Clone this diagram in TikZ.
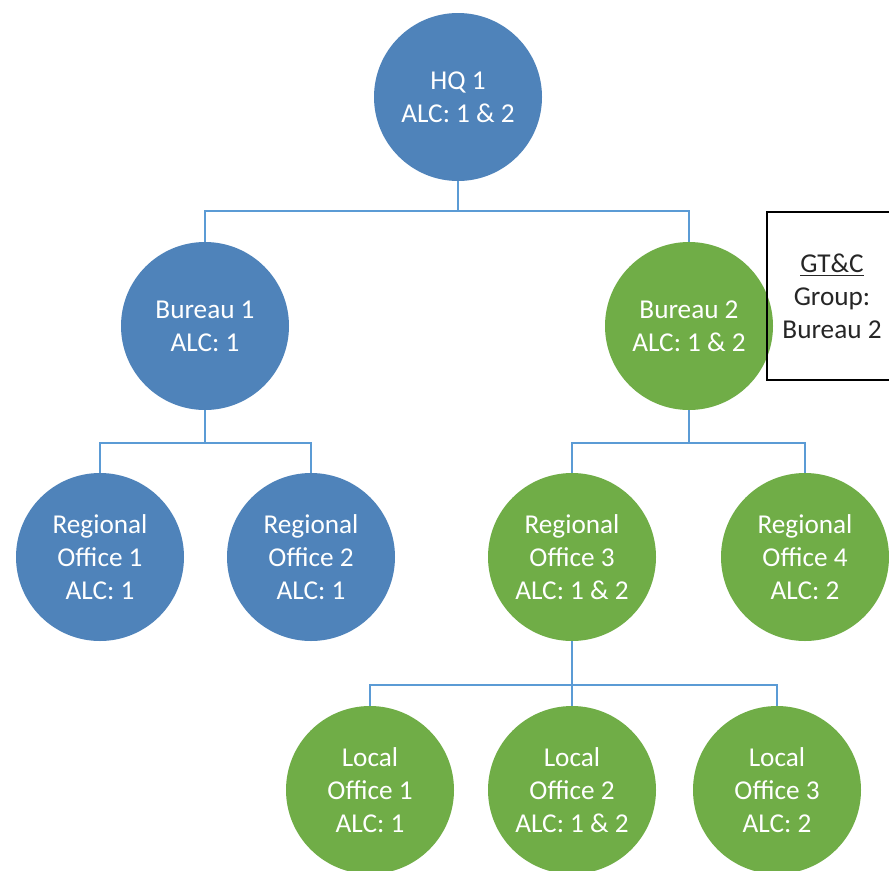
\documentclass[tikz,border=0pt]{standalone}
\usepackage{fontspec}
\setmainfont{Carlito}
\usetikzlibrary{positioning}
\definecolor{officeblue}{HTML}{4F83BA}
\definecolor{officegreen}{HTML}{70AD47}
\definecolor{linkblue}{HTML}{5B9BD5}

\begin{document}
\begin{tikzpicture}[
  office/.style={circle, minimum size=3.36cm, inner sep=0pt, align=center,
    text=white, font=\fontsize{15.5}{18.7}\selectfont},
  blueoffice/.style={office, fill=officeblue},
  greenoffice/.style={office, fill=officegreen},
  link/.style={draw=linkblue, line width=1.1pt},
  node distance=1cm, on grid]
\useasboundingbox (0,0) rectangle (17.78,-17.4);
\clip (0,0) rectangle (17.78,-17.4);
% HQ
\node[blueoffice] (hq) at (9.16,-1.94) {HQ 1\\ALC: 1 \& 2};
% bureaus
\node[blueoffice, below left=4.58cm and 5.06cm of hq] (bur1) {Bureau 1\\ALC: 1};
\node[greenoffice, below right=4.58cm and 4.62cm of hq] (bur2) {Bureau 2\\ALC: 1 \& 2};
% regional offices
\node[blueoffice, below left=4.62cm and 2.1cm of bur1] (reg1) {Regional\\Office 1\\ALC: 1};
\node[blueoffice, below right=4.62cm and 2.12cm of bur1] (reg2) {Regional\\Office 2\\ALC: 1};
\node[greenoffice, below left=4.62cm and 2.34cm of bur2] (reg3) {Regional\\Office 3\\ALC: 1 \& 2};
\node[greenoffice, below right=4.62cm and 2.32cm of bur2] (reg4) {Regional\\Office 4\\ALC: 2};
% local offices
\node[greenoffice, below left=4.66cm and 4.04cm of reg3] (loc1) {Local\\Office 1\\ALC: 1};
\node[greenoffice, below=4.66cm of reg3] (loc2) {Local\\Office 2\\ALC: 1 \& 2};
\node[greenoffice, below right=4.66cm and 4.1cm of reg3] (loc3) {Local\\Office 3\\ALC: 2};
% group box
\node[draw=black, line width=0.9pt, minimum width=2.6cm, minimum height=3.36cm,
  align=center, text=black!85, font=\fontsize{15.5}{18.7}\selectfont,
  above right=0.6cm and 2.86cm of bur2] (gtc) {\underline{GT\&C}\\Group:\\Bureau 2};
% links
\draw[link] (hq.south) -- ++(0,-0.6) -| (bur1.north);
\draw[link] (hq.south) -- ++(0,-0.6) -| (bur2.north);
\draw[link] (bur1.south) -- ++(0,-0.66) -| (reg1.north);
\draw[link] (bur1.south) -- ++(0,-0.66) -| (reg2.north);
\draw[link] (bur2.south) -- ++(0,-0.66) -| (reg3.north);
\draw[link] (bur2.south) -- ++(0,-0.66) -| (reg4.north);
\draw[link] (reg3.south) -- ++(0,-0.88) -| (loc1.north);
\draw[link] (reg3.south) -- (loc2.north);
\draw[link] (reg3.south) -- ++(0,-0.88) -| (loc3.north);
\end{tikzpicture}
\end{document}
